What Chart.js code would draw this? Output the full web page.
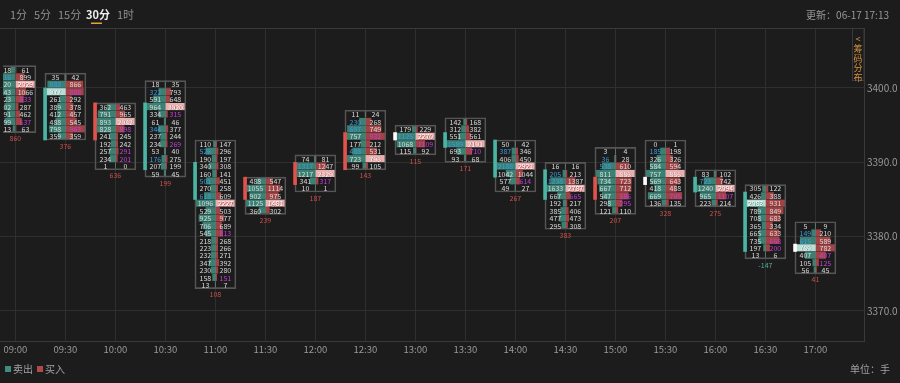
<!DOCTYPE html>
<html><head><meta charset="utf-8">
<script src="https://cdn.jsdelivr.net/npm/chart.js@4.4.1/dist/chart.umd.min.js"></script>
<style>html,body{margin:0;padding:0;background:#1c1c1c;overflow:hidden}</style>
</head><body>
<canvas id="c" width="900" height="383"></canvas>
<script>
// ---------- data ----------
const timeLabels = ['09:00','09:30','10:00','10:30','11:00','11:30','12:00','12:30','13:00','13:30','14:00','14:30','15:00','15:30','16:00','16:30','17:00'];
const timeMinutes = [0,30,60,90,120,150,180,210,240,270,300,330,360,390,420,450,480];
const yTicks = [3370,3380,3390,3400];
const topPrices = [3403,3402,3398,3401,3393,3388,3391,3397,3395,3396,3393,3390,3392,3393,3389,3387,3382];
const sellVolumes = [
  [218,716,920,643,423,502,391,499,113],
  [35,888,977,261,389,412,488,798,359],
  [362,791,893,828,241,192,257,234,1],
  [18,322,591,964,334,61,344,237,234,53,176,207,59],
  [110,526,190,340,160,501,270,618,1096,529,925,706,545,218,223,232,347,230,158,13],
  [488,1055,902,1125,360],
  [74,1317,1217,341,10],
  [11,230,697,757,177,488,723,99],
  [179,1125,1068,115],
  [142,312,551,1589,693,93],
  [50,387,406,2188,1042,577,49],
  [16,205,1238,1633,667,192,385,477,295],
  [3,36,538,811,734,667,547,298,121],
  [0,185,326,584,757,569,418,669,136],
  [83,723,1240,965,223],
  [305,426,2083,789,708,365,665,735,197,13],
  [5,149,615,789,407,105,56]
];
const buyVolumes = [
  [61,899,2029,1066,833,287,462,637,63],
  [42,866,888,292,378,457,545,963,359],
  [463,965,2042,898,245,242,291,201,0],
  [35,793,648,3020,315,46,377,244,269,40,275,199,45],
  [147,296,197,308,141,451,258,609,2227,503,977,689,813,268,266,271,392,280,151,7],
  [547,1114,975,1481,302],
  [81,1247,2329,317,1],
  [24,268,749,932,212,531,796,105],
  [229,2270,1109,92],
  [168,382,561,2191,710,68],
  [42,346,450,2921,1044,614,27],
  [16,213,1387,2787,665,217,406,473,308],
  [4,28,610,886,723,712,586,295,110],
  [1,198,326,594,886,643,488,745,135],
  [102,742,2094,1107,214],
  [122,388,931,849,683,334,633,658,200,6],
  [9,210,589,782,407,125,45]
];
// '.' normal, 'b' sell imbalance, 'h' point of control
const sellMarks = ['.b.......','.bh......','.........','.b....b...b..','.b...b.b............','.....','.b...','.bb..b..','.b..','...b..','.b.b...','.bb......','.bb......','.b.......','.b...','..h.......','.bbh...'];
// '.' normal, 'm' buy imbalance, 'h' point of control
const buyMarks  = ['..h.m..m.','..m....m.','..hm..mm.','...hm...m....','........h...m.....m.','...h.','..hm.','...m..h.','.hm.','...hm.','...h.m.','...hm....','...h..mm.','....h..m.','..hm.','.......mm.','....mm.'];
const bodyLow  = [null,3393,3393,3389,3385,3385,3387,3389,3393,3392,3388,3385,3385,3387,3386,3378,3378];
const bodyHigh = [null,3400,3398,3398,3390,3388,3390,3394,3394,3394,3393,3389,3388,3388,3388,3386,3379];
const bodyDir  = ['', 'down','up','down','down','up','up','up','flat','down','down','down','up','flat','down','down','flat'];
const deltas = [860,376,636,199,108,239,187,143,115,171,267,383,207,328,275,-147,41];

// ---------- style ----------
const BG = '#1c1c1c', GRID = '#2f2f2f', AXIS = '#3a3a3a';
const SELL = 'rgba(64,146,131,0.85)', BUY = 'rgba(176,72,74,0.9)';
const SELL_HL = '#b9ddd5', BUY_HL = '#e9b0b0';
const TEAL = '#4ab5a4', RED = '#e2524d', WHITE = '#ffffff';
const FONT = '"Liberation Sans Narrow","Noto Sans CJK SC","Liberation Sans",sans-serif';
const X_MIN = -9.24, X_MAX = 509.16, Y_MIN = 3365.96, Y_MAX = 3408.07;
const HALF_BOX = 12.2;   // minutes
const BAR_LEN = 11.7;    // minutes
const COL_OFF = 6.0;     // minutes
const CLIP = {left:-3, right:0, top:0, bottom:0};

// ---------- build datasets ----------
const sellPts=[], sellCols=[], buyPts=[], buyCols=[], boxPts=[], bodyPts=[], bodyCols=[];
timeMinutes.forEach((t,k)=>{
  const top = topPrices[k], sv = sellVolumes[k], bv = buyVolumes[k];
  const sMax = Math.max(...sv), bMax = Math.max(...bv);
  sv.forEach((v,i)=>{
    const hl = sellMarks[k][i]==='h';
    const f = hl ? 1 : v/sMax;
    sellPts.push({y: top-i-0.5, x:[t - f*BAR_LEN, t]});
    sellCols.push(hl ? SELL_HL : SELL);
  });
  bv.forEach((v,i)=>{
    const hl = buyMarks[k][i]==='h';
    const f = hl ? 1 : v/bMax;
    buyPts.push({y: top-i-0.5, x:[t, t + f*BAR_LEN]});
    buyCols.push(hl ? BUY_HL : BUY);
  });
  boxPts.push({x:t, y:[top - sv.length, top]});
  if (bodyLow[k] !== null) {
    bodyPts.push({x: t - HALF_BOX, y:[bodyLow[k], bodyHigh[k]]});
    bodyCols.push(bodyDir[k]==='up' ? RED : bodyDir[k]==='down' ? TEAL : WHITE);
  }
});

const fmtFont = (size, weight) => (weight||'') + ' ' + size + 'px ' + FONT;

const decoPlugin = {
  id:'deco',
  beforeDraw(chart){
    const {ctx} = chart;
    ctx.save(); ctx.fillStyle = BG; ctx.fillRect(0,0,chart.width,chart.height); ctx.restore();
  },
  beforeDatasetsDraw(chart){
    const {ctx, chartArea} = chart;
    ctx.save(); ctx.strokeStyle = AXIS; ctx.lineWidth = 1;
    ctx.beginPath(); ctx.moveTo(0, chartArea.top+0.5); ctx.lineTo(chartArea.right, chartArea.top+0.5); ctx.stroke();
    ctx.restore();
  },
  afterDatasetsDraw(chart){
    const {ctx, chartArea, scales:{x, y}} = chart;
    ctx.save();
    ctx.beginPath(); ctx.rect(chartArea.left+3, chartArea.top, chartArea.width-3, chartArea.height); ctx.clip();
    ctx.textAlign='center'; ctx.textBaseline='middle';
    ctx.font = fmtFont(7);
    timeMinutes.forEach((t,k)=>{
      const top = topPrices[k];
      const xs = x.getPixelForValue(t - COL_OFF), xb = x.getPixelForValue(t + COL_OFF);
      sellVolumes[k].forEach((v,i)=>{
        const m = sellMarks[k][i];
        const py = y.getPixelForValue(top-i-0.5)+0.5;
        if (m==='h') { ctx.fillStyle = 'rgba(40,110,95,0.9)'; ctx.fillText(String(v), xs+0.5, py+0.5); }
        ctx.fillStyle = m==='b' ? '#3b9be0' : m==='h' ? '#ffffff' : '#dadada';
        ctx.fillText(String(v), xs, py);
      });
      buyVolumes[k].forEach((v,i)=>{
        const m = buyMarks[k][i];
        const py = y.getPixelForValue(top-i-0.5)+0.5;
        if (m==='h') { ctx.fillStyle = 'rgba(150,50,55,0.9)'; ctx.fillText(String(v), xb+0.5, py+0.5); }
        ctx.fillStyle = m==='m' ? '#c43fdc' : m==='h' ? '#ffffff' : '#dadada';
        ctx.fillText(String(v), xb, py);
      });
      const d = deltas[k];
      ctx.fillStyle = d < 0 ? '#4fae9e' : '#c9504c';
      ctx.fillText(String(d), x.getPixelForValue(t), y.getPixelForValue(top - sellVolumes[k].length) + 6);
    });
    ctx.restore();
  },
  afterDraw(chart){
    const {ctx, chartArea} = chart;
    ctx.save();
    ctx.textBaseline='middle'; ctx.textAlign='left';
    // period tabs
    const tabs = [['1分',10,false],['5分',34,false],['15分',58,false],['30分',86,true],['1时',117,false]];
    tabs.forEach(([s,px,active])=>{
      ctx.font = fmtFont(11, active?'bold':'');
      ctx.fillStyle = active ? '#eeeeee' : '#8f8f8f';
      ctx.fillText(s, px, 15);
    });
    ctx.fillStyle = '#e5a23c'; ctx.fillRect(91, 22.5, 11, 1.5);
    // update time
    ctx.textAlign='right'; ctx.font = fmtFont(10); ctx.fillStyle = '#9a9a9a';
    ctx.fillText('更新：06-17 17:13', 889, 15);
    // side tab
    ctx.fillStyle = BG; ctx.fillRect(852, chartArea.top+1, 12, 52);
    ctx.strokeStyle = '#3a3a3a'; ctx.strokeRect(852.5, chartArea.top+0.5, 11.5, 52);
    ctx.textAlign='center'; ctx.fillStyle = '#d8923c'; ctx.font = fmtFont(9);
    ['<','筹','码','分','布'].forEach((s,i)=> ctx.fillText(s, 858, 39 + i*9.6));
    // legend
    ctx.textAlign='left'; ctx.font = fmtFont(10);
    ctx.fillStyle = '#3f8c80'; ctx.fillRect(5, 366, 6, 6);
    ctx.fillStyle = '#a0a0a0'; ctx.fillText('卖出', 13, 369.5);
    ctx.fillStyle = '#b04a4a'; ctx.fillRect(37, 366, 6, 6);
    ctx.fillStyle = '#a0a0a0'; ctx.fillText('买入', 45, 369.5);
    ctx.textAlign='right'; ctx.fillText('单位：手', 890, 369.5);
    ctx.restore();
  }
};

const axisCommon = {offset:false, grid:{color:GRID, drawTicks:false, offset:false}, border:{color:AXIS}};
const chart = new Chart(document.getElementById('c'), {
  type:'bar',
  data:{datasets:[
    {label:'box', data:boxPts, xAxisID:'x2', yAxisID:'y2', indexAxis:'x', backgroundColor:'rgba(0,0,0,0)', borderColor:'#555555', borderWidth:1, borderSkipped:false, barThickness:41, grouped:false, order:1, clip:CLIP},
    {label:'body', data:bodyPts, xAxisID:'x2', yAxisID:'y2', indexAxis:'x', backgroundColor:bodyCols, barThickness:3, grouped:false, order:0, clip:CLIP},
    {label:'卖出', data:sellPts, xAxisID:'x', yAxisID:'y', indexAxis:'y', backgroundColor:sellCols, barThickness:6.4, grouped:false, order:2, clip:CLIP},
    {label:'买入', data:buyPts, xAxisID:'x', yAxisID:'y', indexAxis:'y', backgroundColor:buyCols, barThickness:6.4, grouped:false, order:2, clip:CLIP}
  ]},
  options:{
    responsive:false, animation:false, devicePixelRatio:1,
    layout:{padding:{top:28, left:0, right:0, bottom:27}},
    plugins:{legend:{display:false}, tooltip:{enabled:false}},
    scales:{
      x:{...axisCommon, type:'linear', position:'bottom', min:X_MIN, max:X_MAX, beginAtZero:false,
        afterBuildTicks:s=>{s.ticks = timeMinutes.map(v=>({value:v}));},
        afterFit:s=>{s.height = 15;},
        ticks:{callback:v=>timeLabels[timeMinutes.indexOf(v)], color:'#9a9a9a', font:{size:9.5, family:FONT}, padding:3, maxRotation:0, autoSkip:false}},
      y:{...axisCommon, type:'linear', position:'right', min:Y_MIN, max:Y_MAX, beginAtZero:false,
        afterBuildTicks:s=>{s.ticks = yTicks.map(v=>({value:v}));},
        afterFit:s=>{s.width = 36;},
        ticks:{callback:v=>v.toFixed(1), color:'#9a9a9a', font:{size:10, family:FONT}, padding:3}},
      x2:{type:'linear', display:false, offset:false, min:X_MIN, max:X_MAX},
      y2:{type:'linear', display:false, offset:false, min:Y_MIN, max:Y_MAX, beginAtZero:false}
    }
  },
  plugins:[decoPlugin]
});
const ys = chart.scales.y;
const rowPx = ys.getPixelForValue(3400) - ys.getPixelForValue(3401);
chart.data.datasets[2].barThickness = rowPx - 1;
chart.data.datasets[3].barThickness = rowPx - 1;
chart.update('none');
</script>
</body></html>
